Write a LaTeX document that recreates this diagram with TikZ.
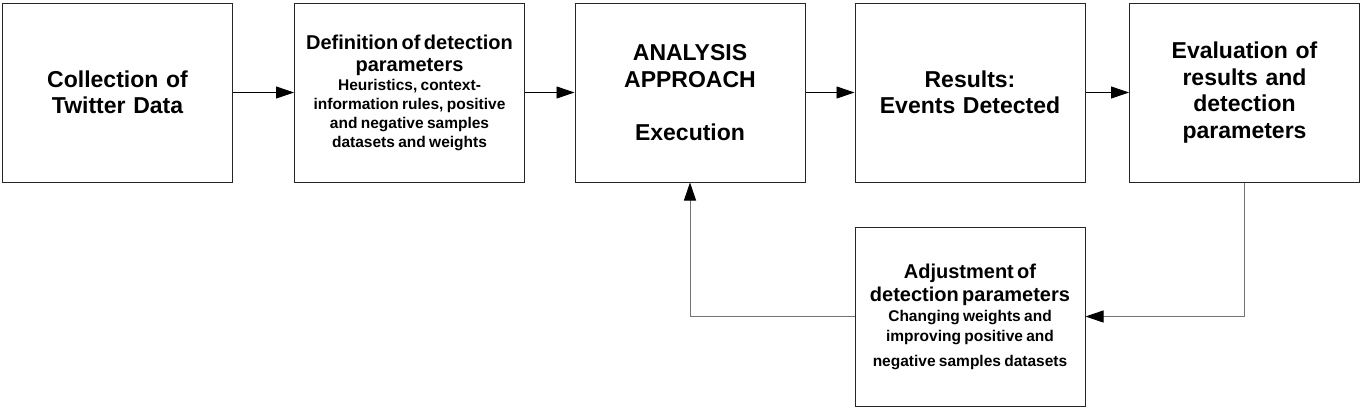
\documentclass[tikz,border=0pt]{standalone}
\usepackage{fontspec}
\setmainfont{Liberation Sans}
\usetikzlibrary{arrows.meta}
\begin{document}
\begin{tikzpicture}[x=1pt,y=-1pt,
  box/.style={draw=black!85, line width=1pt, minimum width=230pt, minimum height=179pt,
    inner sep=0pt, text width=226pt, align=center, font=\bfseries},
  big/.style={font=\bfseries\fontsize{23}{26.5}\selectfont},
  flow/.style={draw=black, line width=0.9pt, -{Triangle[length=18pt,width=12pt]}},
  loop/.style={draw=black!55, line width=1pt, -{Triangle[length=18pt,width=12pt,color=black]}}]
\useasboundingbox (0,0) rectangle (1364,410);
\fill[white] (0,0) rectangle (1364,410);

\node[box,big] (b1) at (117.5,92.5) {Collection of\\Twitter Data};
\node[box] (b2) at (409.5,92.5) {\fontsize{20}{22}\selectfont Definition of detection\\parameters\par
  \fontsize{15.5}{19}\selectfont Heuristics, context-\\information rules, positive\\and negative samples\\datasets and weights\par};
\node[box,big] (b3) at (690,92.5) {ANALYSIS\\APPROACH\\\mbox{}\\Execution};
\node[box,big] (b4) at (970,92.5) {Results:\\Events Detected};
\node[box,big] (b5) at (1244.5,92.5) {Evaluation of\\results and\\detection\\parameters};
\node[box] (b6) at (970,316.5) {\fontsize{20}{23}\selectfont Adjustment of\\detection parameters\par
  \fontsize{15.5}{20}\selectfont Changing weights and\\improving positive and\\[5pt]negative samples datasets\par};

\draw[flow] (b1) -- (b2);
\draw[flow] (b2) -- (b3);
\draw[flow] (b3) -- (b4);
\draw[flow] (b4) -- (b5);
\draw[loop] (b5.south) |- (b6.east);
\draw[loop] (b6.west) -| (b3.south);
\end{tikzpicture}
\end{document}
